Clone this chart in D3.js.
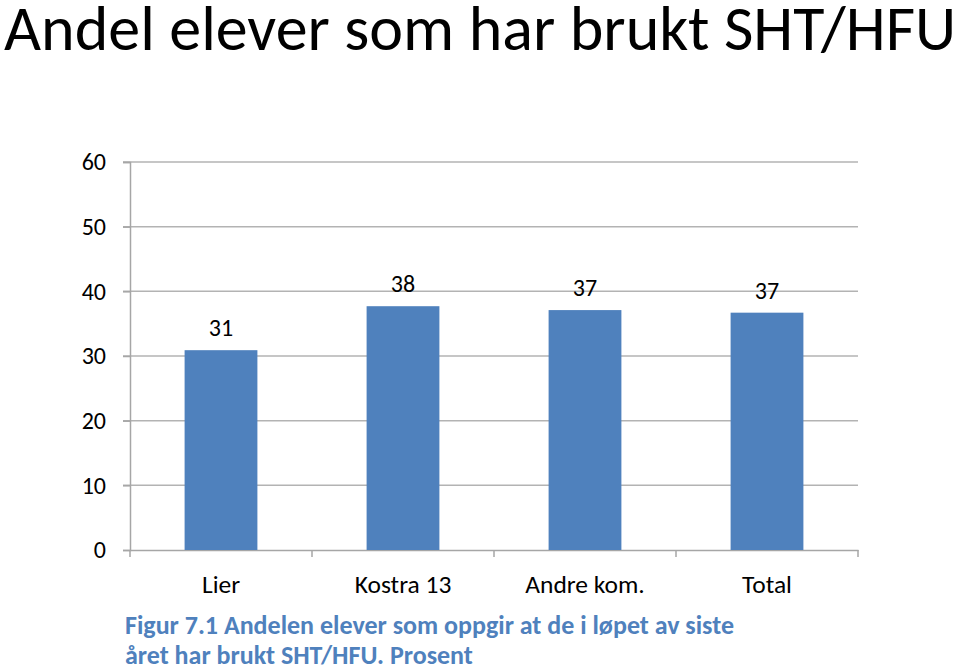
<!DOCTYPE html>
<html>
<head>
<meta charset="utf-8">
<script src="https://cdn.jsdelivr.net/npm/d3@7"></script>
<style>
  html, body { margin: 0; padding: 0; background: #fff; }
  svg { display: block; font-family: Carlito, Calibri, Lato, "Open Sans", sans-serif; }
</style>
</head>
<body>
<svg id="chart" width="959" height="671"></svg>
<script>
const title = "Andel elever som har brukt SHT/HFU";
const categories = ["Lier", "Kostra 13", "Andre kom.", "Total"];
const values = [30.9, 37.7, 37.1, 36.7];
const yTicks = [0, 10, 20, 30, 40, 50, 60];
const captionLines = [
  "Figur 7.1 Andelen elever som oppgir at de i løpet av siste",
  "året har brukt SHT/HFU. Prosent"
];

const svg = d3.select("#chart");
const margin = { left: 130, right: 101, top: 162, bottom: 121 };
const W = 959, H = 671;
const plotW = W - margin.left - margin.right;
const plotH = H - margin.top - margin.bottom;
const FF = "Carlito, Calibri, Lato, sans-serif";

const x = d3.scaleBand().domain(categories).range([margin.left, margin.left + plotW]).paddingInner(0.6).paddingOuter(0.3);
const xb = d3.scaleBand().domain(categories).range([margin.left, margin.left + plotW]);
const y = d3.scaleLinear().domain([0, 60]).range([margin.top + plotH, margin.top]);

// title
svg.append("text").attr("x", 4).attr("y", 50)
  .attr("font-size", 64).attr("fill", "#000").text(title);

// gridlines
svg.append("g").selectAll("line").data(yTicks.filter(d => d > 0)).join("line")
  .attr("x1", margin.left - 7).attr("x2", margin.left + plotW)
  .attr("y1", d => y(d)).attr("y2", d => y(d))
  .attr("stroke", "#b3b3b3").attr("stroke-width", 1.5);

// y axis
const yAxis = d3.axisLeft(y).tickValues(yTicks).tickSize(7).tickPadding(17);
const gy = svg.append("g").attr("transform", `translate(${margin.left},0)`).call(yAxis);
gy.select(".domain").attr("stroke", "#a6a6a6").attr("stroke-width", 1.5);
gy.selectAll(".tick line").attr("stroke", "#a6a6a6").attr("stroke-width", 1.5);
gy.selectAll(".tick text").attr("font-size", 24).attr("fill", "#000").attr("font-family", FF);

// x axis
const xAxis = d3.axisBottom(xb).tickSize(0).tickSizeOuter(0).tickPadding(25);
const gx = svg.append("g").attr("transform", `translate(0,${y(0)})`).call(xAxis);
gx.select(".domain").attr("stroke", "#a6a6a6").attr("stroke-width", 1.5);
gx.selectAll(".tick text").attr("font-size", 25.5).attr("fill", "#000").attr("font-family", FF);
// category boundary ticks
const bounds = categories.map(c => xb(c)).concat([margin.left + plotW]);
svg.append("g").selectAll("line").data(bounds).join("line")
  .attr("x1", d => d).attr("x2", d => d)
  .attr("y1", y(0)).attr("y2", y(0) + 7)
  .attr("stroke", "#a6a6a6").attr("stroke-width", 1.5);

// bars
svg.append("g").selectAll("rect").data(values).join("rect")
  .attr("x", (d, i) => x(categories[i]))
  .attr("width", x.bandwidth())
  .attr("y", d => y(d))
  .attr("height", d => y(0) - y(d))
  .attr("fill", "#4f81bd");

// labels
svg.append("g").selectAll("text").data(values).join("text")
  .attr("x", (d, i) => x(categories[i]) + x.bandwidth() / 2)
  .attr("y", d => y(d) - 14)
  .attr("text-anchor", "middle")
  .attr("font-size", 24).attr("fill", "#000")
  .text(d => d3.format(".0f")(d));

// caption
svg.append("g").selectAll("text").data(captionLines).join("text")
  .attr("x", 125).attr("y", (d, i) => 634 + i * 30)
  .attr("font-size", 26).attr("font-weight", "bold").attr("fill", "#4f81bd")
  .text(d => d);
</script>
</body>
</html>
